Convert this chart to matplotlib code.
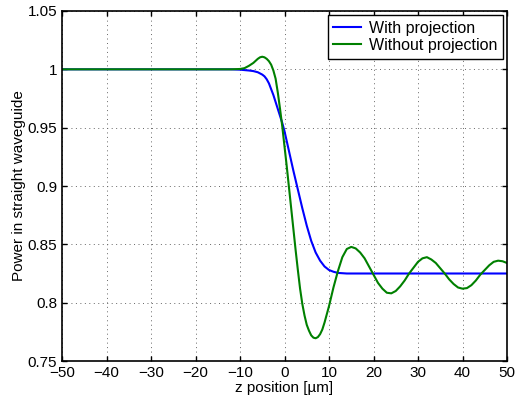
import numpy as np
import matplotlib
matplotlib.use("Agg")
import matplotlib.pyplot as plt

plt.rcParams['font.family'] = ['Liberation Sans', 'DejaVu Sans']
plt.rcParams['font.size'] = 11

# z positions [um] and power
z_blue = [-50, -40, -30, -20, -12, -10, -8, -7, -6, -5, -4.5, -4, -3.5, -3, -2.5,
          -2, -1.5, -1, -0.5, 0, 1, 2, 3, 4, 5, 6, 7, 8, 9, 10, 11, 12, 14, 20,
          30, 40, 50]
with_proj = [1.0, 1.0, 1.0, 1.0, 1.0, 0.9997, 0.999, 0.9985, 0.9975, 0.9955,
             0.994, 0.9915, 0.988, 0.983, 0.978, 0.972, 0.966, 0.960, 0.954,
             0.947, 0.930, 0.913, 0.897, 0.881, 0.866, 0.853, 0.843, 0.836,
             0.831, 0.828, 0.8265, 0.8255, 0.825, 0.825, 0.825, 0.825, 0.825]

z_green = [-50, -40, -30, -20, -12, -10, -9, -8, -7, -6, -5.5, -5, -4.5, -4,
           -3.5, -3, -2.5, -2, -1.5, -1, -0.5, 0, 0.5, 1, 1.5, 2, 2.5, 3, 3.5,
           4, 4.5, 5, 5.5, 6, 6.5, 7, 7.5, 8, 8.5, 9, 10, 11, 12, 13, 14, 15,
           16, 17, 18, 19, 20, 21, 22, 23, 24, 25, 26, 27, 28, 29, 30, 31, 32,
           33, 34, 35, 36, 37, 38, 39, 40, 41, 42, 43, 44, 45, 46, 47, 48, 49, 50]
without_proj = [1.0, 1.0, 1.0, 1.0, 1.0, 1.0003, 1.001, 1.003, 1.0055, 1.009,
                1.0103, 1.0108, 1.0103, 1.009, 1.007, 1.004, 0.999, 0.992, 0.980,
                0.966, 0.951, 0.934, 0.917, 0.899, 0.881, 0.863, 0.845, 0.828,
                0.812, 0.799, 0.789, 0.781, 0.776, 0.772, 0.770, 0.7695, 0.7705,
                0.773, 0.777, 0.783, 0.797, 0.813, 0.827, 0.839, 0.846, 0.8478,
                0.8465, 0.843, 0.838, 0.831, 0.824, 0.817, 0.812, 0.8085, 0.808,
                0.810, 0.814, 0.819, 0.825, 0.830, 0.835, 0.838, 0.839, 0.837,
                0.834, 0.8295, 0.825, 0.820, 0.816, 0.813, 0.812, 0.8125, 0.815,
                0.819, 0.824, 0.828, 0.832, 0.835, 0.836, 0.8355, 0.834]

xticks = [-50, -40, -30, -20, -10, 0, 10, 20, 30, 40, 50]
yticks = [0.75, 0.8, 0.85, 0.9, 0.95, 1.0, 1.05]

fig = plt.figure(figsize=(5.22, 3.99), dpi=100)
ax = fig.add_axes([62/522, 1 - 361/399, 445/522, 350/399])

ax.plot(z_blue, with_proj, color=(0, 0, 1), lw=1.5, label="With projection")
ax.plot(z_green, without_proj, color=(0, 0.5, 0), lw=1.5, label="Without projection")

ax.set_xlim(-50, 50)
ax.set_ylim(0.75, 1.05)
ax.set_xticks(xticks)
ax.set_yticks(yticks)
ax.set_yticklabels(["%g" % v for v in yticks])
ax.grid(True, linestyle=(0, (1, 3.6)), color='0.4', lw=0.7)
ax.tick_params(direction='in', top=True, right=True, length=3.5, width=1)
ax.tick_params(axis='x', pad=3.5)
for s in ax.spines.values():
    s.set_linewidth(1.2)

ax.set_xlabel("z position [\u00b5m]", labelpad=0.5)
ax.set_ylabel("Power in straight waveguide", labelpad=1)

leg = ax.legend(loc='upper right', bbox_to_anchor=(1, 1), borderaxespad=0.25,
                fancybox=False, edgecolor='black', framealpha=1, fontsize=11.5,
                handlelength=1.75, handletextpad=0.5, borderpad=0.35,
                labelspacing=0.15)
leg.get_frame().set_linewidth(1.0)

fig.savefig("out.png", dpi=100)
